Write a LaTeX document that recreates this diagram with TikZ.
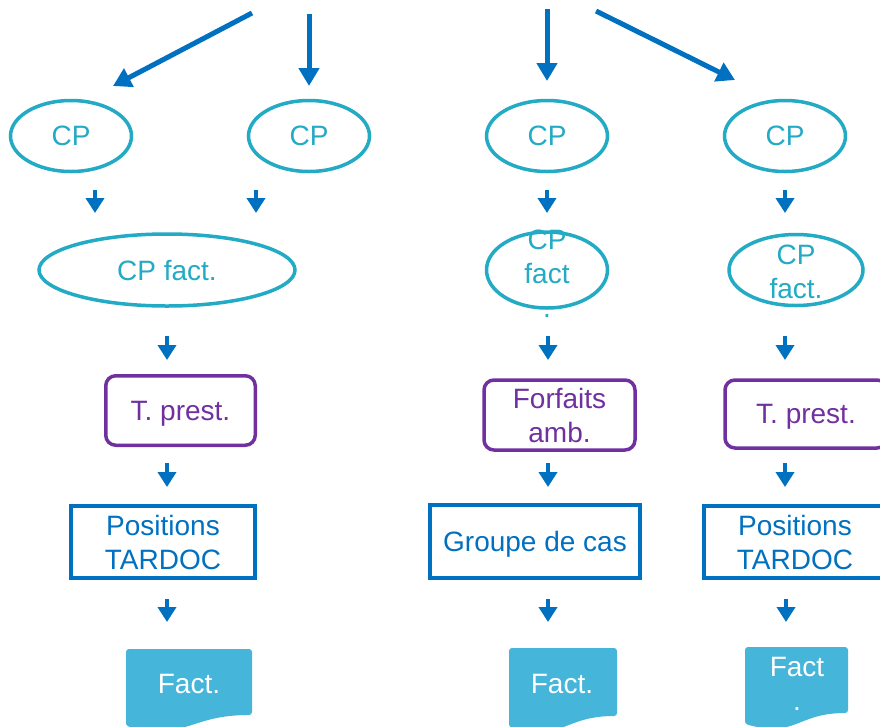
\documentclass[tikz,border=0pt]{standalone}
\usepackage{fontspec}
\setmainfont{Liberation Sans}
\usetikzlibrary{arrows.meta,shapes.geometric}
\definecolor{cpteal}{RGB}{35,170,196}
\definecolor{tpurple}{RGB}{112,48,160}
\definecolor{posblue}{RGB}{0,112,192}
\definecolor{docblue}{RGB}{69,181,218}
\tikzset{
  txt/.style={font=\fontsize{28}{34}\selectfont, align=center, inner sep=0pt},
  cpell/.style={ellipse, draw=cpteal, line width=3.5pt, text=cpteal, inner sep=0pt, txt},
  tbox/.style={rectangle, draw=tpurple, line width=3.5pt, rounded corners=10pt, text=tpurple, inner sep=2pt, txt},
  posbox/.style={rectangle, draw=posblue, line width=3.5pt, text=posblue, inner sep=2pt, txt},
  sarrow/.style={draw=posblue, line width=4pt, -{Triangle[width=18pt,length=15pt]}},
  barrow/.style={draw=posblue, line width=5pt, -{Triangle[width=20pt,length=18pt]}},
  docfill/.style={fill=docblue, rounded corners=3pt},
  doctext/.style={txt, text=white}
}
\begin{document}
\begin{tikzpicture}[x=1pt,y=-1pt]
\clip (0,0) rectangle (880,726);
\fill[white] (0,0) rectangle (880,726);

% top arrows
\coordinate (t1s) at (252,13); \coordinate (t1e) at (113,86);
\coordinate (t2s) at (309,14); \coordinate (t2e) at (309,86);
\coordinate (t3s) at (547,9);  \coordinate (t3e) at (547,81);
\coordinate (t4s) at (596,11); \coordinate (t4e) at (735,80);
\draw[barrow] (t1s) -- (t1e);
\draw[barrow] (t2s) -- (t2e);
\draw[barrow] (t3s) -- (t3e);
\draw[barrow] (t4s) -- (t4e);

% CP ellipses
\node[cpell, minimum width=121pt, minimum height=71pt] (cp1) at (71,136) {CP};
\node[cpell, minimum width=121pt, minimum height=71pt] (cp2) at (309,136) {CP};
\node[cpell, minimum width=121pt, minimum height=71pt] (cp3) at (547,136) {CP};
\node[cpell, minimum width=121pt, minimum height=71pt] (cp4) at (785,136) {CP};

% short arrows row 1
\coordinate (a1s) at (95,190);  \coordinate (a1e) at (95,213);
\coordinate (a2s) at (256,190); \coordinate (a2e) at (256,213);
\coordinate (a3s) at (547,190); \coordinate (a3e) at (547,213);
\coordinate (a4s) at (785,190); \coordinate (a4e) at (785,213);
\draw[sarrow] (a1s) -- (a1e);
\draw[sarrow] (a2s) -- (a2e);
\draw[sarrow] (a3s) -- (a3e);
\draw[sarrow] (a4s) -- (a4e);

% CP fact ellipses
\node[cpell, minimum width=256pt, minimum height=72pt] (cf1) at (167,270) {CP fact.};
\node[cpell, minimum width=121pt, minimum height=76pt] (cf2) at (547,270) {};
\node[txt, text=cpteal] (cf2t) at (547,274) {CP\\fact\\.};
\node[cpell, minimum width=134pt, minimum height=71pt] (cf3) at (796,270) {};
\node[txt, text=cpteal] (cf3t) at (796,272) {CP\\fact.};

% short arrows row 2
\coordinate (b1s) at (167,336); \coordinate (b1e) at (167,360);
\coordinate (b2s) at (548,336); \coordinate (b2e) at (548,360);
\coordinate (b3s) at (785,336); \coordinate (b3e) at (785,360);
\draw[sarrow] (b1s) -- (b1e);
\draw[sarrow] (b2s) -- (b2e);
\draw[sarrow] (b3s) -- (b3e);

% purple boxes
\node[tbox, text depth=0pt, minimum width=149.5pt, minimum height=69.5pt] (tp1) at (180.5,410.5) {T. prest.};
\node[tbox, minimum width=151pt, minimum height=70pt] (fa) at (559.5,415) {Forfaits\\amb.};
\node[tbox, text depth=0pt, minimum width=162pt, minimum height=68pt] (tp2) at (806,414) {T. prest.};

% short arrows row 3
\coordinate (c1s) at (167,463); \coordinate (c1e) at (167,487);
\coordinate (c2s) at (548,463); \coordinate (c2e) at (548,487);
\coordinate (c3s) at (785,463); \coordinate (c3e) at (785,487);
\draw[sarrow] (c1s) -- (c1e);
\draw[sarrow] (c2s) -- (c2e);
\draw[sarrow] (c3s) -- (c3e);

% blue boxes
\node[posbox, minimum width=184pt, minimum height=72pt] (pos1) at (163,542) {Positions\\TARDOC};
\node[posbox, text depth=0pt, minimum width=210pt, minimum height=73pt] (gc) at (535,541.5) {Groupe de cas};
\node[posbox, minimum width=182pt, minimum height=72pt] (pos2) at (795,542) {Positions\\TARDOC};

% short arrows row 4
\coordinate (d1s) at (167,599); \coordinate (d1e) at (167,622);
\coordinate (d2s) at (548,599); \coordinate (d2e) at (548,622);
\coordinate (d3s) at (786,599); \coordinate (d3e) at (786,622);
\draw[sarrow] (d1s) -- (d1e);
\draw[sarrow] (d2s) -- (d2e);
\draw[sarrow] (d3s) -- (d3e);

% documents
\fill[docfill] (126,726) -- (126,649) -- (252,649) -- (252,715)
  .. controls (189,715) and (189,740) .. (126,726) -- cycle;
\node[doctext] (f1) at (189,684) {Fact.};
\fill[docfill] (509,727) -- (509,648) -- (617,648) -- (617,716)
  .. controls (563,716) and (563,742) .. (509,727) -- cycle;
\node[doctext] (f2) at (562,684) {Fact.};
\fill[docfill] (745,724) -- (745,647) -- (848,647) -- (848,713)
  .. controls (796.5,713) and (796.5,738) .. (745,724) -- cycle;
\node[doctext] (f3) at (797,684) {Fact\\.};
\end{tikzpicture}
\end{document}
